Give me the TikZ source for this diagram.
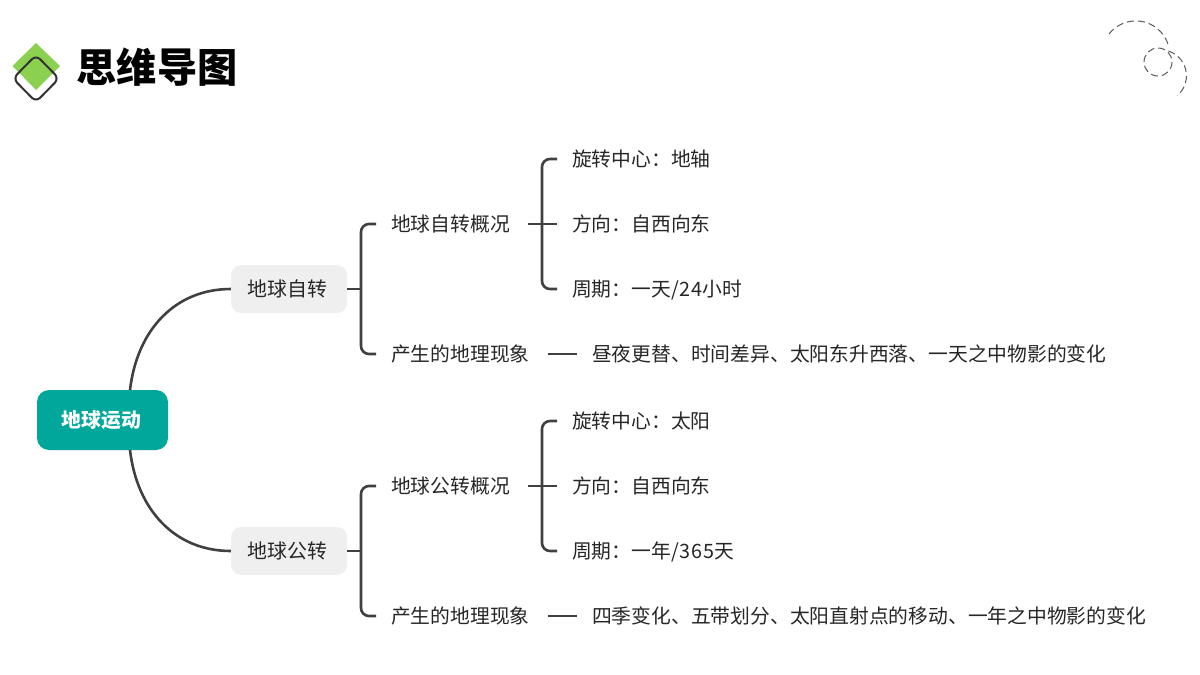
\documentclass[tikz,border=0pt]{standalone}
\usepackage{fontspec}
\setmainfont{Noto Sans CJK SC}
\newfontfamily\digitfont[LetterSpace=4.5]{Noto Sans CJK SC}
\definecolor{rootteal}{HTML}{00A79A}
\definecolor{topicgrey}{HTML}{EFEFEF}
\definecolor{linegrey}{HTML}{404040}
\definecolor{textgrey}{HTML}{262626}
\definecolor{leafgreen}{HTML}{8CD050}
\tikzset{
  rootbox/.style={fill=rootteal,rounded corners=12pt,minimum width=131pt,minimum height=60pt,inner sep=0pt,text=white,font=\fontsize{19.8}{24}\selectfont\bfseries},
  topicbox/.style={fill=topicgrey,rounded corners=10pt,minimum width=116pt,minimum height=48pt,inner sep=0pt,text=textgrey,font=\fontsize{19.9}{24}\selectfont},
  leaf/.style={anchor=west,inner xsep=15pt,inner ysep=0pt,text height=17pt,text depth=3pt,text=textgrey,font=\fontsize{19.78}{24}\selectfont},
  link/.style={draw=linegrey,line width=2.6pt},
  bracket/.style={link,rounded corners=8pt},
  stub/.style={link,shorten <=3pt},
  deco/.style={draw=black!65,line width=1pt,dash pattern=on 7pt off 4pt}
}
\begin{document}
\begin{tikzpicture}[x=1pt,y=-1pt]
\useasboundingbox (0,0) rectangle (1200,675);
% title
\fill [leafgreen] (36,43) -- (60,66) -- (36,90) -- (12.5,66) -- cycle;
\draw [black!80,line width=2pt,rounded corners=6pt] (36,55) -- (59,78.5) -- (36,102) -- (13,78.5) -- cycle;
\node (title) at (157,67) [inner sep=0pt,font=\fontsize{40.2}{44}\selectfont\bfseries] {思维导图};
% corner decoration
\draw [deco] (1109,34) arc (-142:-14:34);
\draw [deco] (1158,62) circle (14);
\draw [deco] (1168.5,51) arc (-72:50:26);
% root
\node (root) at (102.5,420) [rootbox] {\hspace{-2pt}\raisebox{-2pt}{地球运动}};
\coordinate (rootup) at (130,390);
\coordinate (rootdown) at (130,450);
% upper half
\node (spin) at (289,289) [topicbox] {\hspace{-3.5pt}\raisebox{-1.5pt}{地球自转}};
\node (spinfacts) at (376,224) [leaf] {地球自转概况};
\node (spinfx) at (376,354) [leaf] {产生的地理现象};
\node (spinaxis) at (557,159) [leaf] {旋转中心：地轴};
\node (spindir) at (557,224) [leaf] {方向：自西向东};
\node (spintime) at (557,289) [leaf] {周期：一天{\digitfont /24}小时};
\node (spinlist) at (577,354) [leaf] {昼夜更替、时间差异、太阳东升西落、一天之中物影的变化};
\coordinate (spinstem) at (361,289);
\coordinate (spinfork) at (542,224);
\draw [link] (rootup) .. controls (137,330) and (175,289) .. (spin.west);
\draw [link] (spin.east) -- (spinstem);
\draw [bracket] (spinfacts.west) -| (spinstem) |- (spinfx.west);
\draw [bracket] (spinaxis.west) -| (spinfork) |- (spintime.west);
\draw [stub] (spinfacts.east) -- (spindir.west);
\draw [stub] (spinfx.east) -- (spinlist.west);
% lower half
\node (orbit) at (289,551) [topicbox] {\hspace{-3.5pt}\raisebox{-1.5pt}{地球公转}};
\node (orbitfacts) at (376,486) [leaf] {地球公转概况};
\node (orbitfx) at (376,616) [leaf] {产生的地理现象};
\node (orbitaxis) at (557,421) [leaf] {旋转中心：太阳};
\node (orbitdir) at (557,486) [leaf] {方向：自西向东};
\node (orbittime) at (557,551) [leaf] {周期：一年{\digitfont /365}天};
\node (orbitlist) at (577,616) [leaf] {四季变化、五带划分、太阳直射点的移动、一年之中物影的变化};
\coordinate (orbitstem) at (361,551);
\coordinate (orbitfork) at (542,486);
\draw [link] (rootdown) .. controls (137,510) and (175,551) .. (orbit.west);
\draw [link] (orbit.east) -- (orbitstem);
\draw [bracket] (orbitfacts.west) -| (orbitstem) |- (orbitfx.west);
\draw [bracket] (orbitaxis.west) -| (orbitfork) |- (orbittime.west);
\draw [stub] (orbitfacts.east) -- (orbitdir.west);
\draw [stub] (orbitfx.east) -- (orbitlist.west);
\end{tikzpicture}
\end{document}
